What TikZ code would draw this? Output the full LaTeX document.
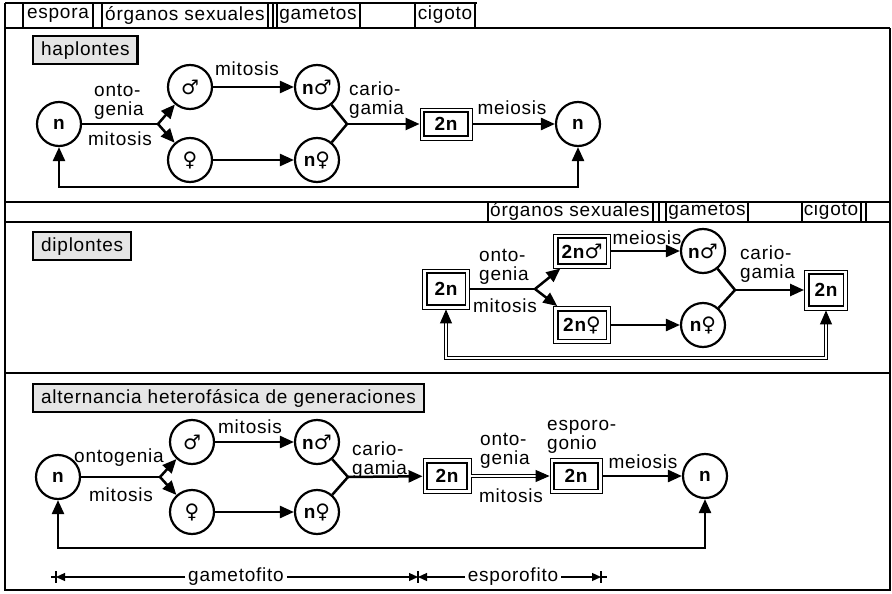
\documentclass[tikz,border=0pt]{standalone}
\usepackage{fontspec}
\setmainfont{Liberation Sans}[LetterSpace=4]
\newfontfamily\symf{DejaVu Sans}
\usetikzlibrary{arrows.meta}
\newcommand\mysym[1]{{\symf\fontsize{20}{19}\selectfont #1}}
\begin{document}
\begin{tikzpicture}[x=1pt,y=-1pt,
  every node/.style={font=\fontsize{19}{19}\selectfont, inner sep=0pt},
  lbl/.style={align=left},
  circ/.style={circle, draw, line width=2.2pt, minimum size=44pt, font=\fontsize{19}{19}\selectfont\bfseries},
  dbox/.style={draw, line width=0.9pt, minimum width=48pt, minimum height=36pt, font=\fontsize{19}{19}\selectfont\bfseries},
  hdr/.style={draw, line width=2.3pt, fill=gray!20, inner xsep=8pt, minimum height=28pt, anchor=north west},
  arr/.style={line width=2.5pt, -{Triangle[length=14pt,width=12pt]}},
  ln/.style={line width=2.5pt},
  dbl/.style={double, double distance=2.6pt, line width=1pt},
  dhead/.style={line width=1pt, -{Triangle[length=14pt,width=12pt]}},
  frame/.style={line width=1.6pt},
  cell/.style={line width=1.2pt},
  sarr/.style={line width=1.2pt, -{Triangle[length=9pt,width=8pt]}},
  scl/.style={inner xsep=3pt}
]
\useasboundingbox (0,0) rectangle (892,594);
\fill[white] (0,0) rectangle (892,594);
% frame
\draw[frame] (5,3) -- (477,3);
\draw[frame] (5,28) -- (890,28);
\draw[frame] (5,3) -- (5,590) -- (890,590) -- (890,28);
\draw[frame] (5,202) -- (890,202);
\draw[frame] (5,222) -- (890,222);
\draw[frame] (5,373) -- (890,373);
\foreach \x in {23,93,102,268,273,277,360,415,475} \draw[cell] (\x,3) -- (\x,28);
\foreach \x in {488,653,659,666,748,802,861,866} \draw[cell] (\x,202) -- (\x,222);
% column labels
\node (t1) at (58,15) {espora};
\node (t2) at (185,15) {órganos sexuales};
\node (t3) at (318,15) {gametos};
\node (t4) at (445,15) {cigoto};
\node (m1) at (570,211) {órganos sexuales};
\node (m2) at (707,211) {gametos};
\node (m3) at (831,211) {cigoto};

% ---------- haplontes
\node[hdr] (H1) at (32,35) {haplontes};
\node[circ] (hn1) at (59,124) {n};
\node[circ] (hM) at (190,87) {\mysym{♂}};
\node[circ] (hF) at (190,160) {\mysym{♀}};
\node[circ] (hnM) at (317,87) {n\mysym{♂}};
\node[circ] (hnF) at (317,160) {n\mysym{♀}};
\node[dbox, minimum width=52pt, minimum height=32pt] (h2n) at (446,124) {2n};
\node[circ] (hn2) at (578,124) {n};
\coordinate (hj1) at (158,124);
\coordinate (hj2) at (347,124);
\coordinate (hb) at (318,187);
\draw[ln] (hn1) -- (hj1);
\draw[arr] (hj1) -- (hM);
\draw[arr] (hj1) -- (hF);
\draw[arr] (hM) -- (hnM);
\draw[arr] (hF) -- (hnF);
\draw[ln] (hnM) -- (hj2);
\draw[ln] (hnF) -- (hj2);
\draw[arr] (hj2) -- (h2n);
\draw[arr] (h2n) -- (hn2);
\draw[arr] (hb) -| (hn1);
\draw[arr] (hb) -| (hn2);
\node[lbl, anchor=west] (hl1) at (94,102) {onto-\\genia};
\node (hl2) at (120,139) {mitosis};
\node (hl3) at (247,69) {mitosis};
\node[lbl, anchor=west] (hl4) at (349,100) {cario-\\gamia};
\node (hl5) at (512,108) {meiosis};

% ---------- diplontes
\node[hdr] (H2) at (32,231) {diplontes};
\node[dbox, minimum width=47pt, minimum height=40pt] (dL) at (446,289) {2n};
\node[dbox, minimum width=57pt, minimum height=34pt] (dM) at (582,251) {2n\mysym{♂}};
\node[dbox, minimum width=57pt, minimum height=37pt] (dF) at (582,325) {2n\mysym{♀}};
\node[circ] (dnM) at (703,251) {n\mysym{♂}};
\node[circ] (dnF) at (703,325) {n\mysym{♀}};
\node[dbox, minimum width=43pt, minimum height=40pt] (dR) at (826,290) {2n};
\coordinate (dj1) at (535,289);
\coordinate (dj2) at (735,290);
\coordinate (db) at (636,358);
\draw[ln] (dL) -- (dj1);
\draw[arr] (dj1) -- (dM);
\draw[arr] (dj1) -- (dF);
\draw[arr] (dM) -- (dnM);
\draw[arr] (dF) -- (dnF);
\draw[ln] (dnM) -- (dj2);
\draw[ln] (dnF) -- (dj2);
\draw[arr] (dj2) -- (dR);
\draw[dbl] ([yshift=-12pt]dL.south) |- (db) -| ([yshift=-12pt]dR.south);
\draw[dhead] ([yshift=-13pt]dL.south) -- (dL.south);
\draw[dhead] ([yshift=-13pt]dR.south) -- (dR.south);
\node[lbl, anchor=west] (dl1) at (479,267) {onto-\\genia};
\node (dl2) at (505,306) {mitosis};
\node (dl3) at (647,238) {meiosis};
\node[lbl, anchor=west] (dl4) at (740,264) {cario-\\gamia};

% ---------- alternancia
\node[hdr] (H3) at (32,383) {alternancia heterofásica de generaciones};
\node[circ] (an1) at (58,477) {n};
\node[circ] (aM) at (192,442) {\mysym{♂}};
\node[circ] (aF) at (192,512) {\mysym{♀}};
\node[circ] (anM) at (317,442) {n\mysym{♂}};
\node[circ] (anF) at (317,512) {n\mysym{♀}};
\node[dbox, minimum width=48pt, minimum height=35pt] (a2n) at (447,476) {2n};
\node[dbox, minimum width=52pt, minimum height=35pt] (a2n2) at (576,476) {2n};
\node[circ] (an2) at (705,476) {n};
\coordinate (aj1) at (160,477);
\coordinate (aj2) at (348,477);
\coordinate (ab) at (380,548);
\draw[ln] (an1) -- (aj1);
\draw[arr] (aj1) -- (aM);
\draw[arr] (aj1) -- (aF);
\draw[arr] (aM) -- (anM);
\draw[arr] (aF) -- (anF);
\draw[ln] (anM) -- (aj2);
\draw[ln] (anF) -- (aj2);
\draw[arr] (aj2) -- (a2n);
\draw[dbl] (a2n.east) -- ([xshift=-11pt]a2n2.west);
\draw[dhead] ([xshift=-13pt]a2n2.west) -- (a2n2.west);
\draw[arr] (a2n2) -- (an2);
\draw[arr] (ab) -| (an1);
\draw[arr] (ab) -| (an2);
\node (al1) at (119,458) {ontogenia};
\node (al2) at (121,495) {mitosis};
\node (al3) at (250,427) {mitosis};
\node[lbl, anchor=west] (al4) at (352,460) {cario-\\gamia};
\node[lbl, anchor=west] (al5) at (480,451) {onto-\\genia};
\node (al6) at (511,496) {mitosis};
\node[lbl, anchor=west] (al7) at (547,437) {esporo-\\gonio};
\node (al8) at (643,462) {meiosis};

% inner frames of the double boxes
\foreach \b in {h2n,dL,dM,dF,dR,a2n,a2n2}
  \draw[line width=1.9pt] ([shift={(4.5pt,-4.5pt)}]\b.north west) rectangle ([shift={(-4.5pt,4.5pt)}]\b.south east);

% ---------- scale
\coordinate (s0) at (56,577);
\coordinate (s1) at (418,577);
\coordinate (s2) at (601,577);
\node[scl] (gt) at (236,577) {gametofito};
\node[scl] (et) at (513,577) {esporofito};
\draw[sarr] (gt.west) -- (s0);
\draw[sarr] (gt.east) -- (s1);
\draw[sarr] (et.west) -- (s1);
\draw[sarr] (et.east) -- (s2);
\draw[cell] (56,571) -- (56,583);
\draw[cell] (418,571) -- (418,583);
\draw[cell] (601,571) -- (601,583);
\draw[cell] (56,577) -- (51,577);
\draw[cell] (601,577) -- (607,577);
\end{tikzpicture}
\end{document}
